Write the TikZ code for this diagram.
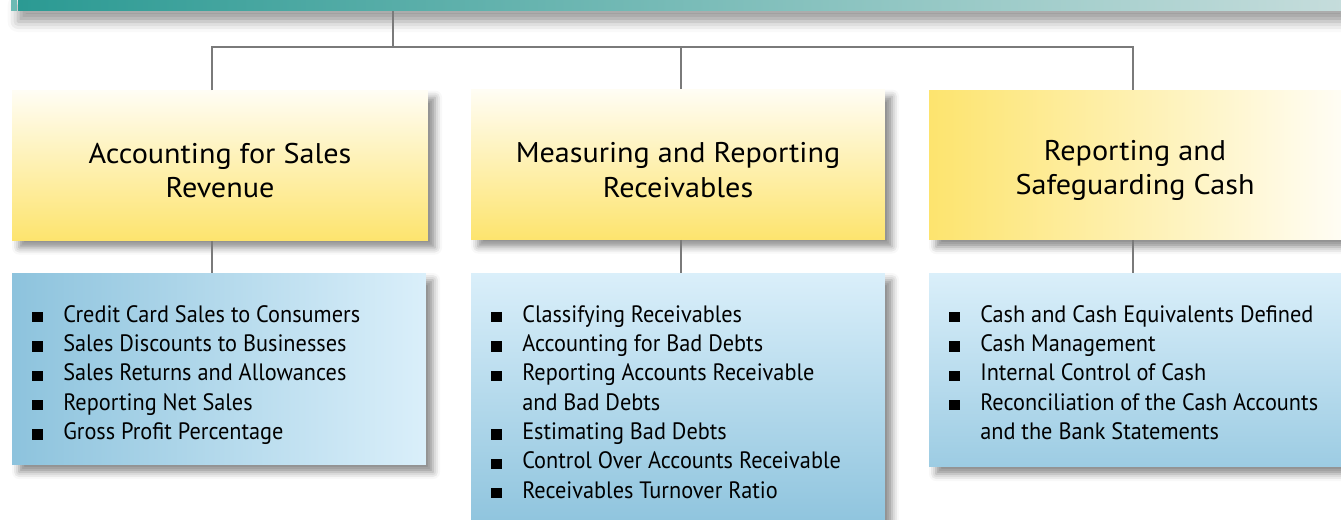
\documentclass[tikz,border=0pt]{standalone}
\usepackage{fontspec}
\setmainfont[FakeStretch=0.94]{PT Sans}
\newfontfamily\topicfont[FakeStretch=1.06]{PT Sans}
\usetikzlibrary{positioning,shadows.blur}
\definecolor{barleft}{HTML}{2B9A93}
\definecolor{barright}{HTML}{C6DDDC}
\definecolor{barstrip}{HTML}{6DBAB4}
\definecolor{topicyellow}{HTML}{FDE46E}
\definecolor{topicpale}{HTML}{FFFDF4}
\definecolor{itemdark}{HTML}{8DC3DD}
\definecolor{itemlight}{HTML}{DAEFFA}
\definecolor{linkgray}{HTML}{7A7A7A}
\newcommand{\blt}{\makebox[17.6pt][l]{\rule{5.8pt}{5.8pt}}}
\newcommand{\cont}{\hspace*{17.6pt}}
\hyphenpenalty=10000

\begin{document}
\begin{tikzpicture}[x=0.02cm,y=-0.02cm,
    boxshadow/.style={blur shadow={shadow xshift=4pt,shadow yshift=-4pt,shadow opacity=45,shadow blur radius=4pt}},
    topic/.style={boxshadow,minimum height=3cm,inner sep=0pt},
    topictext/.style={align=center,inner sep=0pt,font=\topicfont\fontsize{16.2}{19.85}\selectfont},
    items/.style={boxshadow,inner sep=0pt},
    itemtext/.style={anchor=north west,align=left,inner sep=0pt,font=\fontsize{13.5}{16.7}\selectfont},
    link/.style={draw=linkgray,line width=1.3pt}
  ]
  \useasboundingbox (0,0) rectangle (1341,520);

  % header bar
  \node[minimum width=26.6cm,minimum height=0.32cm,inner sep=0pt,
    left color=barleft,right color=barright,
    blur shadow={shadow xshift=0pt,shadow yshift=-6pt,shadow opacity=40,shadow blur radius=6pt}]
    (bar) at (683,3) {};
  \fill[barstrip] (11,-5) rectangle (17,11);

  % topics
  \node[topic,minimum width=8.32cm,top color=topicpale,bottom color=topicyellow] (t1) at (220,165.5) {};
  \node[topic,minimum width=8.28cm,top color=topicpale,bottom color=topicyellow] (t2) at (678,164.5) {};
  \node[topic,minimum width=8.24cm,left color=topicyellow,right color=topicpale] (t3) at (1135,165) {};
  \node[topictext] (t1txt) at (220,170.5) {Accounting for Sales\\Revenue};
  \node[topictext] (t2txt) at (678,170.5) {Measuring and Reporting\\Receivables};
  \node[topictext] (t3txt) at (1135,170.5) {Reporting and\\Safeguarding Cash};

  % item lists
  \node[items,minimum width=8.28cm,minimum height=3.84cm,left color=itemdark,right color=itemlight]
    (b1) at (219,369) {};
  \node[items,minimum width=8.28cm,minimum height=5.14cm,top color=itemlight,bottom color=itemdark]
    (b2) at (678,401.5) {};
  \node[items,minimum width=8.24cm,minimum height=3.88cm,top color=itemlight,bottom color=itemdark!80!itemlight]
    (b3) at (1135,370) {};
  \node[itemtext] (b1txt) at (32,305) {\blt Credit Card Sales to Consumers\\
      \blt Sales Discounts to Businesses\\
      \blt Sales Returns and Allowances\\
      \blt Reporting Net Sales\\
      \blt Gross Profit Percentage};
  \node[itemtext] (b2txt) at (491,305) {\blt Classifying Receivables\\
      \blt Accounting for Bad Debts\\
      \blt Reporting Accounts Receivable\\
      \cont and Bad Debts\\
      \blt Estimating Bad Debts\\
      \blt Control Over Accounts Receivable\\
      \blt Receivables Turnover Ratio};
  \node[itemtext] (b3txt) at (949,305) {\blt Cash and Cash Equivalents Defined\\
      \blt Cash Management\\
      \blt Internal Control of Cash\\
      \blt Reconciliation of the Cash Accounts\\
      \cont and the Bank Statements};

  % connectors
  \coordinate (hub) at (393,47);
  \coordinate (j1) at (212,47);
  \coordinate (j2) at (681,47);
  \coordinate (j3) at (1133,47);
  \draw[link] (bar.south -| hub) -- (hub);
  \draw[link] (t1.north -| j1) -- (j1) -- (j3) -- (t3.north -| j3);
  \draw[link] (j2) -- (t2.north -| j2);
  \draw[link] (t1.south -| j1) -- (b1.north -| j1);
  \draw[link] (t2.south -| j2) -- (b2.north -| j2);
  \draw[link] (t3.south -| j3) -- (b3.north -| j3);
\end{tikzpicture}
\end{document}
